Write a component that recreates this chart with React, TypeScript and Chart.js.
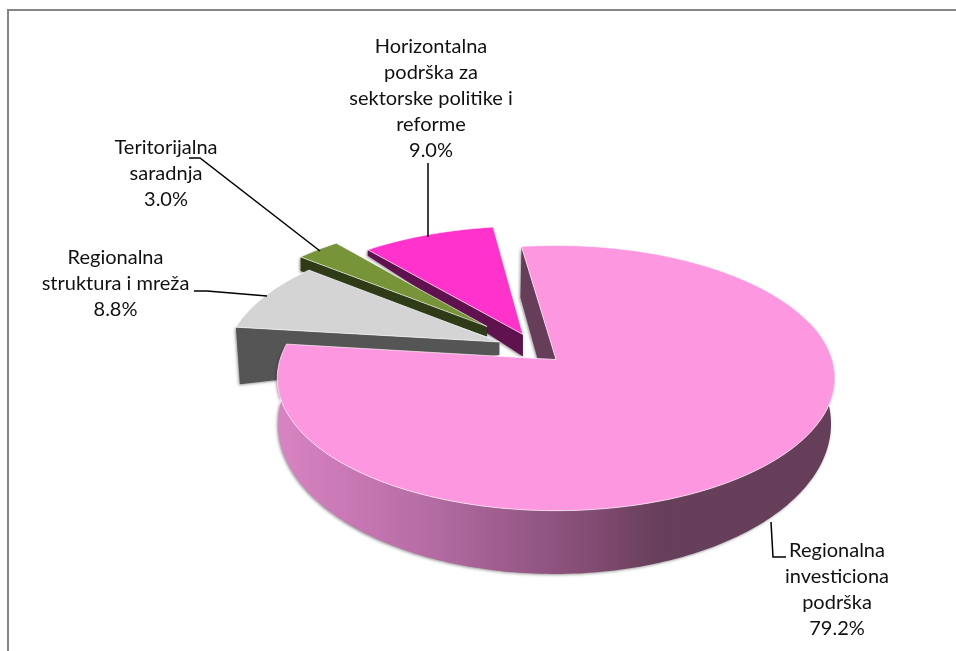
import React, { useEffect, useRef } from "react";
import { Chart, registerables } from "chart.js";

Chart.register(...registerables);

const categories = [
  "Regionalna investiciona podrška",
  "Regionalna struktura i mreža",
  "Teritorijalna saradnja",
  "Horizontalna podrška za sektorske politike i reforme",
];
const values = [79.2, 8.8, 3.0, 9.0];
const labelLines = [
  ["Regionalna", "investiciona", "podrška"],
  ["Regionalna", "struktura i mreža"],
  ["Teritorijalna", "saradnja"],
  ["Horizontalna", "podrška za", "sektorske politike i", "reforme"],
];
const sliceColors = ["#fd98e0", "#d4d4d4", "#779439", "#ff33cc"];
const wallColors = ["#663e5a", "#555555", "#2f3b17", "#60124e"];

const W = 956;
const H = 651;
const TILT = 0.14;
const TOP_DISC = { cx: 556, cy: 359.5, rx: 276, ry: 130 };
const BOTTOM_DISC = { cx: 554.5, cy: 403, rx: 273.8, ry: 147 };
const EXPLODE = [
  [0, 0],
  [-0.209, -0.137],
  [-0.259, -0.263],
  [-0.123, -0.198],
];
// cut-wall offsets from the outer corner and from the apex of each slice
const WALLS = [
  { outer: [-1, 51], apex: [-18, 1] },
  { outer: [4, 57], apex: [0, 13] },
  { outer: [0, 14], apex: [0, 10] },
  { outer: [0, 6], apex: [0, 22] },
];
const LABEL_BOXES = [
  { x: 837, y: 551 },
  { x: 115.5, y: 258 },
  { x: 166, y: 148 },
  { x: 431, y: 47 },
];
const LEADERS = [
  [[771, 522], [773, 557], [786, 557]],
  [[194, 291], [207, 291], [267, 296]],
  [[189, 158], [200, 158], [320, 251]],
  [[428, 163], [428, 237]],
];

type Disc = typeof TOP_DISC;
const project = (d: Disc, u: number, v: number): [number, number] => {
  const w = 1 - TILT * v;
  return [d.cx + (d.rx * u) / w, d.cy + (d.ry * v) / w];
};

const pathPoints = (ctx: CanvasRenderingContext2D, pts: [number, number][]) => {
  ctx.beginPath();
  pts.forEach((p, i) => (i ? ctx.lineTo(p[0], p[1]) : ctx.moveTo(p[0], p[1])));
  ctx.closePath();
};

const arcPoints = (d: Disc, a0: number, a1: number, ou: number, ov: number) => {
  const n = Math.max(4, Math.ceil(Math.abs(a1 - a0) * 60));
  const pts: [number, number][] = [];
  for (let i = 0; i <= n; i++) {
    const a = a0 + ((a1 - a0) * i) / n;
    pts.push(project(d, Math.cos(a) + ou, Math.sin(a) + ov));
  }
  return pts;
};

const pie3d = {
  id: "pie3d",
  beforeDatasetsDraw(chart: any) {
    const ctx: CanvasRenderingContext2D = chart.ctx;
    const arcs = chart.getDatasetMeta(0).data;
    ctx.save();

    // frame
    ctx.strokeStyle = "#858585";
    ctx.lineWidth = 2;
    ctx.beginPath();
    ctx.moveTo(8, H);
    ctx.lineTo(8, 10);
    ctx.lineTo(W, 10);
    ctx.stroke();

    const geom = arcs.map((arc: any, i: number) => {
      const [ou, ov] = EXPLODE[i];
      const s = arc.startAngle;
      const e = arc.endAngle;
      const apex = project(TOP_DISC, ou, ov);
      const rim = arcPoints(TOP_DISC, s, e, ou, ov);
      return { apex, rim, color: arc.options.backgroundColor, s, e };
    });

    const softShadow = (on: boolean) => {
      ctx.shadowColor = on ? "rgba(0,0,0,0.4)" : "transparent";
      ctx.shadowBlur = on ? 3 : 0;
      ctx.shadowOffsetX = on ? -1 : 0;
      ctx.shadowOffsetY = on ? 1 : 0;
    };

    const drawCutWall = (i: number) => {
      const g = geom[i];
      const w = WALLS[i];
      const P = g.rim[0];
      const A = g.apex;
      softShadow(true);
      ctx.fillStyle = wallColors[i];
      pathPoints(ctx, [
        A,
        P,
        [P[0] + w.outer[0], P[1] + w.outer[1]],
        [A[0] + w.apex[0], A[1] + w.apex[1]],
      ]);
      ctx.fill();
      softShadow(false);
    };

    const drawFace = (i: number) => {
      const g = geom[i];
      ctx.fillStyle = g.color;
      pathPoints(ctx, [g.apex, ...g.rim]);
      ctx.fill();
      ctx.strokeStyle = "rgba(255,255,255,0.6)";
      ctx.lineWidth = 1;
      ctx.stroke();
    };

    // back-to-front painter's order
    drawCutWall(0);
    drawCutWall(3);
    drawFace(3);
    drawCutWall(2);
    drawFace(2);
    drawCutWall(1);
    drawFace(1);

    // outer wall of the big slice (front half of the rim)
    const main = geom[0];
    const frontStart = Math.max(main.s, -0.3);
    const frontEnd = Math.min(main.e, Math.PI + 0.3);
    const topRim = arcPoints(TOP_DISC, frontStart, frontEnd, 0, 0);
    const botRim = arcPoints(BOTTOM_DISC, frontStart, frontEnd, 0, 0);
    const grad = ctx.createLinearGradient(278, 0, 836, 0);
    grad.addColorStop(0, "#d983c3");
    grad.addColorStop(0.27, "#b56ca4");
    grad.addColorStop(0.58, "#7f4a70");
    grad.addColorStop(0.68, "#663f5a");
    grad.addColorStop(1, "#663e5a");
    softShadow(true);
    ctx.fillStyle = grad;
    pathPoints(ctx, [...topRim, ...botRim.reverse()]);
    ctx.fill();
    softShadow(false);

    drawFace(0);

    // leader lines
    ctx.strokeStyle = "#000000";
    ctx.lineWidth = 1.5;
    LEADERS.forEach((line) => {
      ctx.beginPath();
      line.forEach((p, i) => (i ? ctx.lineTo(p[0], p[1]) : ctx.moveTo(p[0], p[1])));
      ctx.stroke();
    });

    // data labels
    ctx.fillStyle = "#111111";
    ctx.font = '20px Lato, "Open Sans", sans-serif';
    ctx.textAlign = "center";
    ctx.textBaseline = "middle";
    labelLines.forEach((lines, i) => {
      const box = LABEL_BOXES[i];
      [...lines, values[i].toFixed(1) + "%"].forEach((t, j) => {
        ctx.fillText(t, box.x, box.y + j * 26);
      });
    });

    ctx.restore();
    return false;
  },
};

export default function App() {
  const ref = useRef<HTMLCanvasElement>(null);
  useEffect(() => {
    if (!ref.current) return;
    const chart = new Chart(ref.current, {
      type: "pie",
      data: {
        labels: categories,
        datasets: [{ data: values, backgroundColor: sliceColors, borderWidth: 0 }],
      },
      options: {
        animation: false,
        responsive: false,
        rotation: -8.2,
        layout: { padding: 0 },
        plugins: { legend: { display: false }, tooltip: { enabled: false } },
      },
      plugins: [pie3d],
    });
    return () => chart.destroy();
  }, []);
  return (
    <div style={{ position: "fixed", left: 0, top: 0, width: W, height: H, background: "#fff" }}>
      <canvas ref={ref} width={W} height={H} style={{ display: "block" }} />
    </div>
  );
}
